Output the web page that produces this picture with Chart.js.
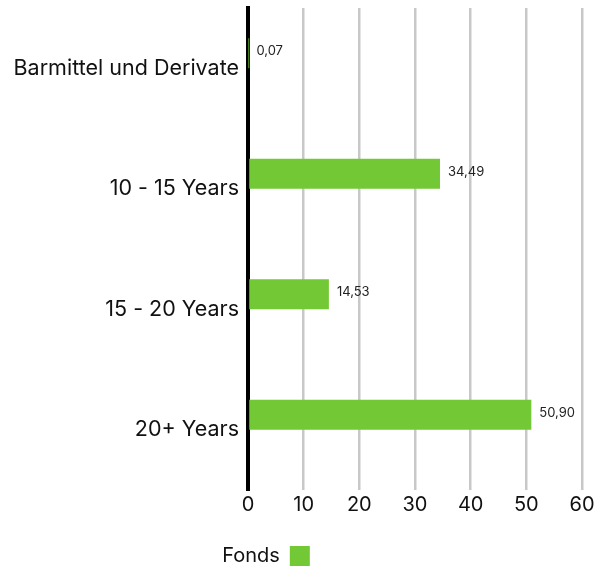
<!DOCTYPE html>
<html>
<head>
<meta charset="utf-8">
<script src="https://cdn.jsdelivr.net/npm/chart.js@4/dist/chart.umd.min.js"></script>
<style>
  html, body { margin: 0; padding: 0; background: #fff; }
  #wrap { width: 606px; height: 572px; }
</style>
</head>
<body>
<div id="wrap"><canvas id="chart"></canvas></div>
<script>
// data
const categories = ["Barmittel und Derivate", "10 - 15 Years", "15 - 20 Years", "20+ Years"]
const fondsValues = [0.07, 34.49, 14.53, 50.90]
const emptyValues = [null, null, null, null]
const xTicks = [0, 10, 20, 30, 40, 50, 60]

const green = "#73C935"
const fontFamily = "Inter, 'Noto Sans', sans-serif"

/* draw value next to each bar */
const valueLabels = {
    id: "valueLabels",
    afterDatasetsDraw(chart) {
        const ctx = chart.ctx
        const meta = chart.getDatasetMeta(0)
        ctx.save()
        ctx.font = "13px " + fontFamily
        ctx.fillStyle = "#222"
        ctx.textAlign = "left"
        ctx.textBaseline = "middle"
        meta.data.forEach((bar, i) => {
            const v = chart.data.datasets[0].data[i]
            ctx.fillText(v.toFixed(2).replace(".", ","), bar.x + 8, bar.y - 2)
        })
        ctx.restore()
    }
}

/* legend sits a bit left of the canvas centre and slightly lower */
const legendShift = {
    id: "legendShift",
    afterLayout(chart) {
        chart.legend.left -= 25
        chart.legend.right -= 25
        chart.legend.top += 4
        chart.legend.bottom += 4
    }
}

new Chart(document.querySelector("#chart"), {
    type: "bar",
    data: {
        labels: categories,
        datasets: [
            { label: "Fonds", data: fondsValues, backgroundColor: green, barPercentage: 1, categoryPercentage: 0.5, inflateAmount: 0 },
            { label: "", data: emptyValues, backgroundColor: "transparent", barPercentage: 1, categoryPercentage: 0.5 }
        ]
    },
    options: {
        indexAxis: "y",
        responsive: true,
        maintainAspectRatio: false,
        animation: false,
        layout: { padding: { top: 8, right: 24, bottom: 0, left: 0 } },
        scales: {
            x: {
                min: 0,
                max: 60,
                afterBuildTicks: (s) => { s.ticks = xTicks.map(v => ({ value: v })) },
                grid: { color: "#c8c8c8", lineWidth: 2.5, drawTicks: false },
                border: { display: false },
                ticks: { color: "#111", font: { size: 20, family: fontFamily }, padding: 3 },
                afterFit: (s) => { s.height = 51 }
            },
            y: {
                z: 1,
                grid: { display: false },
                border: { display: true, color: "#000", width: 4 },
                ticks: { color: "#111", font: { size: 21.5, family: fontFamily }, padding: 1 },
                afterFit: (s) => {
                    s.width = 248
                    s.paddingTop = 0
                    s.paddingBottom = 0
                }
            }
        },
        plugins: {
            legend: {
                position: "bottom",
                rtl: true,
                labels: {
                    filter: (item) => item.text !== "",
                    boxWidth: 20,
                    boxHeight: 20,
                    padding: 1,
                    color: "#111",
                    font: { size: 20, family: fontFamily }
                }
            },
            tooltip: { enabled: false }
        }
    },
    plugins: [valueLabels, legendShift]
})
</script>
</body>
</html>
